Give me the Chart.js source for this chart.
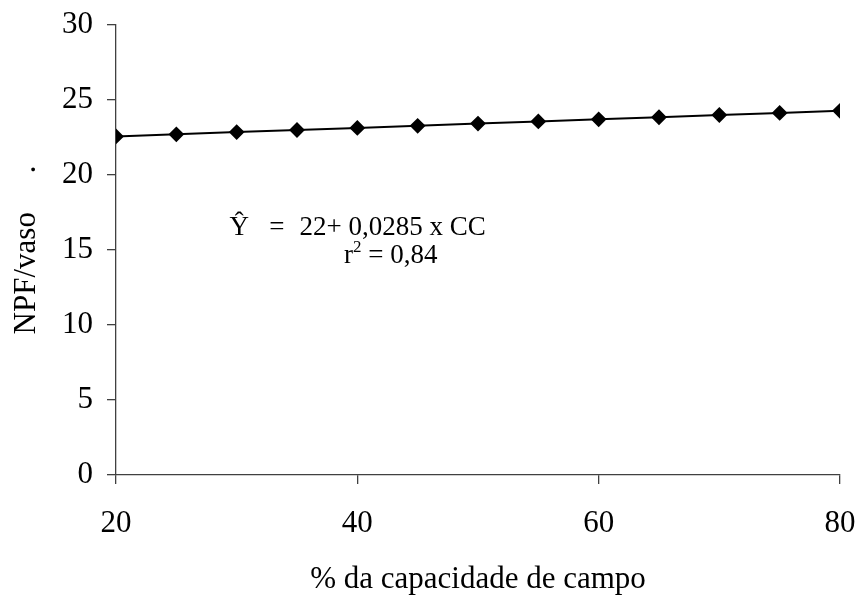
<!DOCTYPE html>
<html>
<head>
<meta charset="utf-8">
<script src="https://cdn.jsdelivr.net/npm/chart.js@4/dist/chart.umd.min.js"></script>
<style>
  html, body { margin: 0; padding: 0; background: #ffffff; }
  #wrap { width: 860px; height: 598px; }
</style>
</head>
<body>
<div id="wrap"><canvas id="chart" width="860" height="598"></canvas></div>
<script>
// % of field capacity (x) and number of pods per pot (y)
const capacidade = [20, 25, 30, 35, 40, 45, 50, 55, 60, 65, 70, 75, 80];
const npfVaso = [22.57, 22.71, 22.86, 23.00, 23.14, 23.28, 23.43, 23.57, 23.71, 23.85, 24.00, 24.14, 24.28];
const xTicks = [20, 40, 60, 80];
const yTicks = [0, 5, 10, 15, 20, 25, 30];

const serif = "'Liberation Serif', 'Times New Roman', serif";
const axisColor = '#404040';

// Regression equation written inside the plot area, anchored in data units
const equationLabel = {
  id: 'equationLabel',
  afterDatasetsDraw(chart) {
    const { ctx, scales: { x, y } } = chart;
    ctx.save();
    ctx.fillStyle = '#000';
    ctx.textBaseline = 'alphabetic';
    ctx.textAlign = 'left';

    ctx.font = `27px ${serif}`;
    const base1 = y.getPixelForValue(16);
    ctx.fillText('\u0176', x.getPixelForValue(29.4), base1);
    ctx.fillText('=', x.getPixelForValue(32.7), base1);
    ctx.fillText('22+ 0,0285 x CC', x.getPixelForValue(35.2), base1);

    const base2 = y.getPixelForValue(14.13);
    let px = x.getPixelForValue(38.9);
    ctx.fillText('r', px, base2);
    px += ctx.measureText('r').width;
    ctx.font = `17px ${serif}`;
    ctx.fillText('2', px, base2 - 11);
    px += ctx.measureText('2').width;
    ctx.font = `27px ${serif}`;
    ctx.fillText(' = 0,84', px, base2);
    ctx.restore();
  }
};

new Chart(document.getElementById('chart'), {
  type: 'line',
  data: {
    datasets: [{
      data: capacidade.map((c, i) => ({ x: c, y: npfVaso[i] })),
      borderColor: '#000',
      backgroundColor: '#000',
      borderWidth: 2,
      pointStyle: 'rectRot',
      pointRadius: 6.5,
      pointHoverRadius: 6.5,
      pointBackgroundColor: '#000',
      pointBorderColor: '#000',
      tension: 0,
      fill: false
    }]
  },
  options: {
    responsive: false,
    animation: false,
    events: [],
    layout: { padding: { top: 25, right: 20, left: 0, bottom: 0 } },
    plugins: {
      legend: { display: false },
      tooltip: { enabled: false }
    },
    scales: {
      x: {
        type: 'linear',
        min: 20,
        max: 80,
        afterBuildTicks(scale) { scale.ticks = xTicks.map(v => ({ value: v })); },
        afterFit(scale) {
          scale.height = 123;
          scale.paddingLeft = 0;
          scale.paddingRight = 0;
        },
        border: { display: true, color: axisColor, width: 1.3 },
        grid: { display: true, drawOnChartArea: false, drawTicks: true, tickLength: 9, color: axisColor, lineWidth: 1.3 },
        ticks: { color: '#000', padding: 21, font: { family: serif, size: 31 }, maxRotation: 0 },
        title: {
          display: true,
          text: '% da capacidade de campo',
          color: '#000',
          font: { family: serif, size: 31 },
          padding: { top: 0, bottom: 0 }
        }
      },
      y: {
        min: 0,
        max: 30,
        afterBuildTicks(scale) { scale.ticks = yTicks.map(v => ({ value: v })); },
        afterFit(scale) {
          scale.width = 116;
          scale.paddingTop = 0;
          scale.paddingBottom = 0;
        },
        border: { display: true, color: axisColor, width: 1.3 },
        grid: { display: true, drawOnChartArea: false, drawTicks: true, tickLength: 9, color: axisColor, lineWidth: 1.3 },
        ticks: { color: '#000', padding: 14, font: { family: serif, size: 31 } },
        title: {
          display: true,
          text: 'NPF/vaso\u00A0\u00A0\u00A0\u00A0\u00A0.',
          color: '#000',
          font: { family: serif, size: 31 },
          padding: { top: 8, bottom: 0 }
        }
      }
    }
  },
  plugins: [equationLabel]
});
</script>
</body>
</html>
